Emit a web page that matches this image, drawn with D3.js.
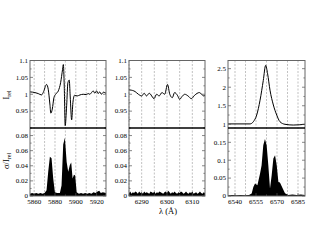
<!DOCTYPE html>
<html>
<head>
<meta charset="utf-8">
<script src="https://cdn.jsdelivr.net/npm/d3@7"></script>
<style>
  body { margin: 0; background: #fff; }
  svg { display: block; font-family: "Liberation Serif", "DejaVu Serif", serif; }
  .grid { stroke: #999; stroke-width: 0.6; stroke-dasharray: 2,1.5; }
  .tick-l { stroke: #555; stroke-width: 0.7; }
  .lbl { font-size: 7px; fill: #000; }
</style>
</head>
<body>
<svg id="chart" width="317" height="245"></svg>
<script>
// --- data: wavelength (Å) / relative intensity ---
const naLam   = [5856, 5860.7, 5863.9, 5867.1, 5868.7, 5871.9, 5873.5, 5875.1, 5876, 5877.4, 5879, 5880.6, 5883.2, 5885.4, 5887.3, 5888, 5888.9, 5889.8, 5891.2, 5892.4, 5893.7, 5894.6, 5896, 5897.2, 5898.8, 5901.3, 5904, 5907.1, 5910, 5911.9, 5913.5, 5915.1, 5916.7, 5918.3, 5919.9, 5921.5, 5923, 5924.5, 5926.5, 5929];
const naFlux  = [1.007, 1.005, 1.002, 0.998, 1.005, 1.029, 1.015, 0.971, 0.944, 0.956, 0.99, 1.0, 1.01, 1.034, 1.074, 1.088, 1.024, 0.907, 0.966, 1.034, 1.042, 0.995, 0.924, 0.975, 0.997, 0.995, 0.998, 1.0, 0.999, 1.002, 1.0, 1.005, 1.01, 1.003, 1.01, 1.002, 1.007, 1.0, 1.006, 1.003];
const naSigLam = [5856, 5858, 5860, 5862, 5864, 5866, 5868, 5870, 5871.9, 5873.5, 5875.1, 5876.7, 5878.3, 5879.9, 5882, 5884.7, 5886.3, 5887.9, 5889.5, 5891.2, 5892.7, 5894.3, 5895.6, 5896.9, 5898.2, 5899.4, 5900.8, 5903, 5905, 5907, 5909, 5911, 5913, 5915, 5917, 5919, 5921, 5922.5, 5924, 5926, 5929];
const naSig   = [0.003, 0.004, 0.003, 0.004, 0.003, 0.004, 0.003, 0.004, 0.0076, 0.032, 0.052, 0.05, 0.023, 0.005, 0.004, 0.004, 0.014, 0.068, 0.077, 0.045, 0.032, 0.041, 0.0445, 0.023, 0.028, 0.027, 0.005, 0.003, 0.004, 0.003, 0.004, 0.003, 0.004, 0.003, 0.005, 0.004, 0.006, 0.007, 0.004, 0.005, 0.004];

const oiLam   = [6285, 6285.4, 6287.4, 6288.7, 6290, 6291, 6291.9, 6293, 6294.9, 6295.9, 6296.9, 6298, 6299.1, 6300.2, 6301.1, 6302.1, 6303, 6304.1, 6305, 6305.9, 6307, 6308.3, 6309.6, 6310.9, 6312.8, 6314.5, 6315];
const oiFlux  = [1.013, 1.0127, 1.008, 1.0, 0.995, 1.003, 0.995, 1.003, 0.987, 1.0, 0.995, 1.005, 1.0, 1.029, 1.0, 0.99, 1.005, 0.997, 0.985, 0.993, 1.0, 0.995, 0.987, 0.997, 1.005, 0.995, 0.996];
const oiSigLam = [6285, 6285.5, 6286, 6286.5, 6287, 6287.5, 6288, 6288.5, 6289, 6289.5, 6290, 6290.5, 6291, 6291.5, 6292, 6292.5, 6293, 6293.5, 6294, 6294.5, 6295, 6295.5, 6296, 6296.5, 6297, 6297.5, 6298, 6298.5, 6299, 6299.5, 6300, 6300.5, 6301, 6301.5, 6302, 6302.5, 6303, 6303.5, 6304, 6304.5, 6305, 6305.5, 6306, 6306.5, 6307, 6307.5, 6308, 6308.5, 6309, 6309.5, 6310, 6310.5, 6311, 6311.5, 6312, 6312.5, 6313, 6313.5, 6314, 6314.5, 6315];
const oiSig   = [0.004, 0.006, 0.003, 0.005, 0.004, 0.006, 0.005, 0.003, 0.006, 0.004, 0.005, 0.003, 0.006, 0.004, 0.005, 0.004, 0.003, 0.006, 0.005, 0.004, 0.006, 0.003, 0.005, 0.004, 0.006, 0.005, 0.004, 0.003, 0.005, 0.006, 0.004, 0.007, 0.005, 0.003, 0.005, 0.004, 0.006, 0.004, 0.003, 0.005, 0.004, 0.006, 0.005, 0.003, 0.004, 0.006, 0.004, 0.003, 0.005, 0.004, 0.006, 0.003, 0.004, 0.005, 0.003, 0.004, 0.006, 0.004, 0.003, 0.005, 0.004];

const haLam   = [6535, 6536.4, 6545, 6550.7, 6553.1, 6555.5, 6557.9, 6560.2, 6561.9, 6563.3, 6565, 6567.4, 6569.8, 6572.1, 6575.7, 6581.6, 6590];
const haFlux  = [1.01, 1.01, 1.01, 1.01, 1.07, 1.25, 1.65, 2.18, 2.59, 2.36, 1.92, 1.52, 1.25, 1.07, 1.0, 0.98, 1.0];
const haSigLam = [6535, 6538, 6541, 6544, 6547, 6550, 6551.9, 6553.1, 6554.3, 6556, 6557.9, 6559, 6560.2, 6561.4, 6562.6, 6563.8, 6565, 6566.2, 6567.4, 6568.6, 6569.8, 6571, 6572.1, 6574.1, 6575.7, 6578, 6581, 6584, 6587, 6590];
const haSig   = [0.002, 0.003, 0.002, 0.003, 0.002, 0.003, 0.007, 0.025, 0.035, 0.03, 0.063, 0.086, 0.142, 0.159, 0.142, 0.086, 0.021, 0.058, 0.105, 0.114, 0.086, 0.039, 0.038, 0.021, 0.008, 0.003, 0.004, 0.003, 0.004, 0.003];

// ticks
const naXTicks = [5860, 5880, 5900, 5920];
const oiXTicks = [6290, 6300, 6310];
const haXTicks = [6540, 6555, 6570, 6585];
const relTicks = [0.95, 1, 1.05, 1.1];
const haRelTicks = [1, 1.5, 2, 2.5];
const sigTicks = [0, 0.02, 0.04, 0.06, 0.08];
const haSigTicks = [0, 0.05, 0.1, 0.15];

const svg = d3.select("#chart");
const yTop = [128, 60.5], yBot = [196, 128];

const panels = [
  {px: [30, 106],  dom: [5856, 5929], grid: 10,  xt: naXTicks, lam: naLam, flux: naFlux, sl: naSigLam, sig: naSig,
   rdom: [0.9, 1.1], rt: relTicks, rm: 0.025, sdom: [0, 0.09], st: sigTicks, sm: 0.01},
  {px: [129, 205], dom: [6285, 6315], grid: 5,   xt: oiXTicks, lam: oiLam, flux: oiFlux, sl: oiSigLam, sig: oiSig,
   rdom: [0.9, 1.1], rt: relTicks, rm: 0.025, sdom: [0, 0.09], st: sigTicks, sm: 0.01},
  {px: [228, 305], dom: [6535, 6590], grid: 7.5, xt: haXTicks, lam: haLam, flux: haFlux, sl: haSigLam, sig: haSig,
   rdom: [0.9, 2.72], rt: haRelTicks, rm: 0.25, sdom: [0, 0.19], st: haSigTicks, sm: 0.025}
];

panels.forEach(p => {
  const x = d3.scaleLinear().domain(p.dom).range(p.px);
  const yr = d3.scaleLinear().domain(p.rdom).range(yTop);
  const ys = d3.scaleLinear().domain(p.sdom).range(yBot);
  const g = svg.append("g");

  // dashed grid
  const gridVals = d3.range(Math.ceil(p.dom[0] / p.grid) * p.grid, p.dom[1], p.grid);
  g.selectAll(".grid").data(gridVals).join("line")
    .attr("class", "grid")
    .attr("x1", d => x(d)).attr("x2", d => x(d))
    .attr("y1", yTop[1]).attr("y2", yBot[0]);

  // filled sigma
  const area = d3.area().x((d, i) => x(p.sl[i])).y0(ys(0)).y1(d => ys(d));
  g.append("path").datum(p.sig).attr("d", area).attr("fill", "#000");

  // spectrum line
  const line = d3.line().x((d, i) => x(p.lam[i])).y(d => yr(d)).curve(d3.curveMonotoneX);
  g.append("path").datum(p.flux).attr("d", line)
    .attr("fill", "none").attr("stroke", "#000").attr("stroke-width", 1);

  // y ticks both sides (inward), minor ones at half spacing
  [[yr, p.rt, p.rm], [ys, p.st, p.sm]].forEach(([sc, tv, step]) => {
    const [lo, hi] = sc.domain();
    d3.range(Math.ceil(lo / step - 1e-6) * step, hi + 1e-9, step).forEach(t => {
      const major = tv.some(v => Math.abs(v - t) < 1e-6);
      const len = major ? 3 : 1.6;
      g.append("line").attr("class", "tick-l")
        .attr("x1", p.px[0]).attr("x2", p.px[0] + len).attr("y1", sc(t)).attr("y2", sc(t));
      g.append("line").attr("class", "tick-l")
        .attr("x1", p.px[1] - len).attr("x2", p.px[1]).attr("y1", sc(t)).attr("y2", sc(t));
    });
    tv.forEach(t => {
      g.append("text").attr("class", "lbl")
        .attr("x", p.px[0] - 2).attr("y", sc(t) + 2.3)
        .attr("text-anchor", "end").text(d3.format("~g")(t));
    });
  });

  // x ticks and labels
  gridVals.forEach(t => {
    const major = p.xt.includes(t);
    g.append("line").attr("class", "tick-l")
      .attr("x1", x(t)).attr("x2", x(t)).attr("y1", yBot[0]).attr("y2", yBot[0] - (major ? 3 : 1.6));
  });
  p.xt.forEach(t => {
    g.append("text").attr("class", "lbl")
      .attr("x", x(t)).attr("y", yBot[0] + 7.5)
      .attr("text-anchor", "middle").text(t);
  });

  // frames
  g.append("rect").attr("x", p.px[0]).attr("y", yTop[1])
    .attr("width", p.px[1] - p.px[0]).attr("height", yBot[0] - yTop[1])
    .attr("fill", "none").attr("stroke", "#666").attr("stroke-width", 1);
  g.append("line").attr("x1", p.px[0]).attr("x2", p.px[1])
    .attr("y1", 128).attr("y2", 128).attr("stroke", "#000").attr("stroke-width", 1.4);
});

// axis titles
const t1 = svg.append("text").attr("transform", "translate(9,95) rotate(-90)")
  .attr("text-anchor", "middle").style("font-size", "8.5px");
t1.append("tspan").text("I");
t1.append("tspan").attr("dy", 2).style("font-size", "6px").text("rel");

const t2 = svg.append("text").attr("transform", "translate(9,161) rotate(-90)")
  .attr("text-anchor", "middle").style("font-size", "8.5px");
t2.append("tspan").text("σ/I");
t2.append("tspan").attr("dy", 2).style("font-size", "6px").text("rel");

svg.append("text").attr("x", 168).attr("y", 214)
  .attr("text-anchor", "middle").style("font-size", "8.5px").text("λ (Å)");
</script>
</body>
</html>
